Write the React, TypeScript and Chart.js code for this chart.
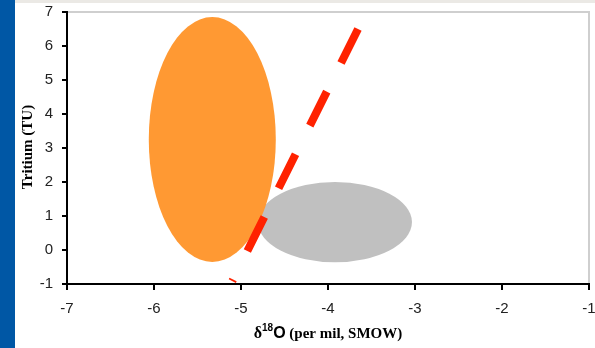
import React, { useEffect, useRef } from "react";
import { Chart, registerables } from "chart.js";

Chart.register(...registerables);

// Axis ranges / ticks
const xTicks = [-7, -6, -5, -4, -3, -2, -1];
const yTicks = [-1, 0, 1, 2, 3, 4, 5, 6, 7];

// Ellipse regions (data units): [centerX, centerY, radiusX, radiusY]
const grayEllipse = [-3.92, 0.82, 0.885, 1.18];
const orangeEllipse = [-5.33, 3.25, 0.73, 3.6];

// Dashed trend line endpoints
const lineX = [-3.655, -5.1];
const lineY = [6.5, -0.915];

const COLORS = {
  gray: "#c0c0c0",
  orange: "#ff9933",
  red: "#ff2200",
  blue: "#0057a5",
  strip: "#ebe9e5",
};

const decorPlugin = {
  id: "decor",
  beforeDraw(chart: any) {
    const { ctx, width, height } = chart;
    ctx.save();
    ctx.fillStyle = "#ffffff";
    ctx.fillRect(0, 0, width, height);
    ctx.fillStyle = COLORS.strip;
    ctx.fillRect(0, 0, width, 3);
    ctx.fillStyle = COLORS.blue;
    ctx.fillRect(0, 0, 15, height);
    // plot border (top and right)
    const a = chart.chartArea;
    ctx.strokeStyle = "#cfcfcf";
    ctx.lineWidth = 2;
    ctx.beginPath();
    ctx.moveTo(a.left, a.top);
    ctx.lineTo(a.right, a.top);
    ctx.lineTo(a.right, a.bottom);
    ctx.stroke();
    ctx.restore();
  },
  beforeDatasetsDraw(chart: any) {
    const { ctx } = chart;
    const xs = chart.scales.x;
    const ys = chart.scales.y;
    const drawEll = (e: number[], color: string) => {
      const cx = xs.getPixelForValue(e[0]);
      const cy = ys.getPixelForValue(e[1]);
      const rx = Math.abs(xs.getPixelForValue(e[0] + e[2]) - cx);
      const ry = Math.abs(ys.getPixelForValue(e[1] + e[3]) - cy);
      ctx.save();
      ctx.fillStyle = color;
      ctx.beginPath();
      ctx.ellipse(cx, cy, rx, ry, 0, 0, Math.PI * 2);
      ctx.fill();
      ctx.restore();
    };
    drawEll(grayEllipse, COLORS.gray);
    drawEll(orangeEllipse, COLORS.orange);
  },
  afterDraw(chart: any) {
    const { ctx } = chart;
    const a = chart.chartArea;
    ctx.save();
    ctx.fillStyle = "#000";
    // Y title
    ctx.translate(28, (a.top + a.bottom) / 2 - 1);
    ctx.rotate(-Math.PI / 2);
    ctx.font = "bold 15px 'Liberation Serif', serif";
    ctx.textAlign = "center";
    ctx.textBaseline = "middle";
    ctx.fillText("Tritium (TU)", 0, 0);
    ctx.restore();

    // X title: δ18O (per mil, SMOW)
    ctx.save();
    ctx.fillStyle = "#000";
    ctx.textBaseline = "alphabetic";
    const parts = [
      { t: "\u03b4", f: "bold 16px 'Liberation Serif', serif", dy: 0 },
      { t: "18", f: "bold 10px 'Liberation Sans', sans-serif", dy: -7 },
      { t: "O", f: "bold 16px 'Liberation Sans', sans-serif", dy: 0 },
      { t: " (per mil, SMOW)", f: "bold 15px 'Liberation Serif', serif", dy: 0 },
    ];
    let total = 0;
    for (const p of parts) {
      ctx.font = p.f;
      total += ctx.measureText(p.t).width;
    }
    let x = (a.left + a.right) / 2 - total / 2;
    const base = 338;
    for (const p of parts) {
      ctx.font = p.f;
      ctx.fillText(p.t, x, base + p.dy);
      x += ctx.measureText(p.t).width;
    }
    ctx.restore();
  },
};

export default function App() {
  const ref = useRef<HTMLCanvasElement | null>(null);
  useEffect(() => {
    document.body.style.margin = "0";
    const canvas = ref.current!;
    const chart = new Chart(canvas, {
      type: "scatter",
      data: {
        datasets: [
          {
            data: lineX.map((x, i) => ({ x, y: lineY[i] })),
            showLine: true,
            borderColor: COLORS.red,
            borderWidth: 8,
            borderDash: [38, 32],
            borderCapStyle: "butt",
            pointRadius: 0,
            fill: false,
          } as any,
        ],
      },
      options: {
        animation: false,
        responsive: false,
        maintainAspectRatio: false,
        layout: { padding: { top: 12, right: 6, left: 0, bottom: 0 } },
        plugins: { legend: { display: false }, tooltip: { enabled: false } },
        scales: {
          x: {
            type: "linear",
            min: xTicks[0],
            max: xTicks[xTicks.length - 1],
            afterBuildTicks: (s: any) => {
              s.ticks = xTicks.map((v) => ({ value: v }));
            },
            afterFit: (s: any) => {
              s.height = 64;
              s.paddingLeft = 0;
              s.paddingRight = 0;
            },
            grid: {
              drawOnChartArea: false,
              drawTicks: true,
              tickLength: 6,
              color: "#000",
              lineWidth: 2,
            },
            border: { color: "#000", width: 2 },
            ticks: {
              color: "#222",
              padding: 10,
              maxRotation: 0,
              font: { family: "'Liberation Sans', Arial, sans-serif", size: 15 },
            },
            title: { display: false },
          },
          y: {
            type: "linear",
            min: yTicks[0],
            max: yTicks[yTicks.length - 1],
            afterBuildTicks: (s: any) => {
              s.ticks = yTicks.map((v) => ({ value: v }));
            },
            afterFit: (s: any) => {
              s.width = 67;
              s.paddingTop = 0;
              s.paddingBottom = 0;
            },
            grid: {
              drawOnChartArea: false,
              drawTicks: true,
              tickLength: 5,
              color: "#000",
              lineWidth: 2,
            },
            border: { color: "#000", width: 2 },
            ticks: {
              color: "#222",
              padding: 9,
              font: { family: "'Liberation Sans', Arial, sans-serif", size: 15 },
            },
            title: { display: false },
          },
        },
      },
      plugins: [decorPlugin],
    });
    return () => chart.destroy();
  }, []);
  return (
    <div style={{ position: "fixed", left: 0, top: 0, width: 595, height: 348 }}>
      <canvas ref={ref} width={595} height={348} style={{ width: 595, height: 348, display: "block" }} />
    </div>
  );
}
